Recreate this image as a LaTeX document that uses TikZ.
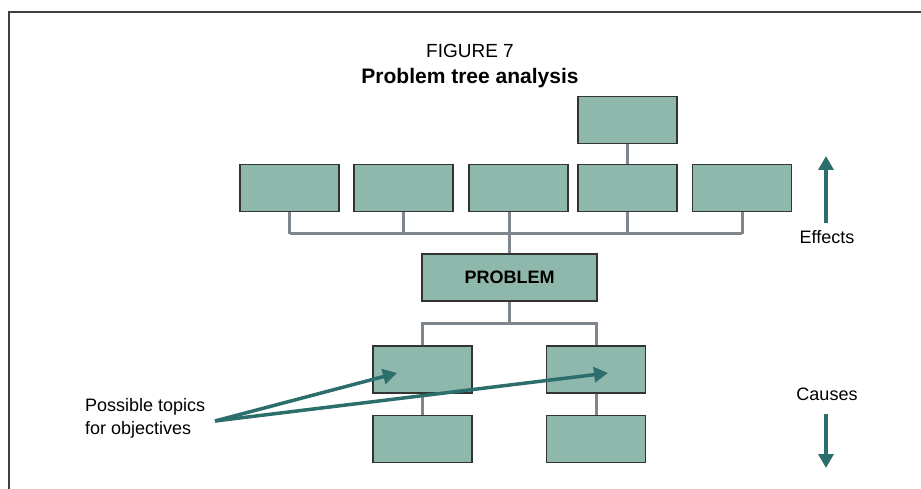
\documentclass[tikz,border=0pt]{standalone}
\usepackage{fontspec}
\setmainfont{Liberation Sans}
\usetikzlibrary{arrows.meta}
\definecolor{boxfill}{RGB}{143,184,173}
\definecolor{linkgray}{RGB}{127,134,141}
\definecolor{teal}{RGB}{44,110,108}
\begin{document}
\begin{tikzpicture}[x=1pt,y=-1pt,
	box/.style={draw=black!80,line width=1.2pt,fill=boxfill,minimum width=99pt,minimum height=47pt,inner sep=0pt},
	link/.style={draw=linkgray,line width=3pt},
	pointer/.style={draw=teal,line width=3.5pt,-{Triangle[width=15pt,length=14pt]}},
	txt/.style={font=\fontsize{18}{23}\selectfont,inner sep=0pt}]
	\useasboundingbox (0,0) rectangle (921,489);
	\draw[black!75,line width=1.5pt] (921,12) -- (9,12) -- (9,489);

	\node[txt,font=\fontsize{19}{23}\selectfont] (fig) at (470,51) {FIGURE 7};
	\node[txt,font=\fontsize{21}{24}\selectfont\bfseries] (title) at (470,78) {Problem tree analysis};

	\foreach \n/\x in {e1/289.5,e2/403.5,e3/518.5,e4/627.5,e5/742} {
		\node[box] (\n) at (\x,188) {};
	};
	\node[box] (top) at (627.5,120) {};
	\node[box,minimum width=175pt,font=\fontsize{18}{22}\selectfont\bfseries] (prob) at (509.5,277.5) {PROBLEM};
	\node[box] (c1) at (422.5,369.5) {};
	\node[box] (c2) at (596,369.5) {};
	\node[box] (d1) at (422.5,439) {};
	\node[box] (d2) at (596,439) {};

	\coordinate (upbus) at (0,234);
	\coordinate (lowbus) at (0,323);
	\foreach \b in {e1,e2,e4,e5} {
		\draw[link] (\b.south) -- (\b.south |- upbus);
	};
	\draw[link] (e1.south |- upbus) -- (e5.south |- upbus);
	\draw[link] (prob.north) -- (prob.north |- e3.south);
	\draw[link] (top.south) -- (e4.north);
	\draw[link] (prob.south) -- (prob.south |- lowbus);
	\draw[link] (c1.north) |- (lowbus -| c2.north) -- (c2.north);
	\draw[link] (c1.south) -- (d1.north);
	\draw[link] (c2.south) -- (d2.north);

	\node[txt,align=left,anchor=west] (topics) at (85,418) {Possible topics\\for objectives};
	\coordinate (tail) at (215,421);
	\coordinate (tip1) at (397,373);
	\coordinate (tip2) at (608,373);
	\draw[pointer] (tail) -- (tip1);
	\draw[pointer] (tail) -- (tip2);

	\node[txt] (eff) at (827,237) {Effects};
	\node[txt] (cau) at (827,394) {Causes};
	\coordinate (efftip) at (826,156);
	\coordinate (cautip) at (826,468);
	\draw[pointer] ([xshift=-1pt,yshift=7pt]eff.north) -- (efftip);
	\draw[pointer] ([xshift=-1pt,yshift=-13pt]cau.south) -- (cautip);
\end{tikzpicture}
\end{document}
